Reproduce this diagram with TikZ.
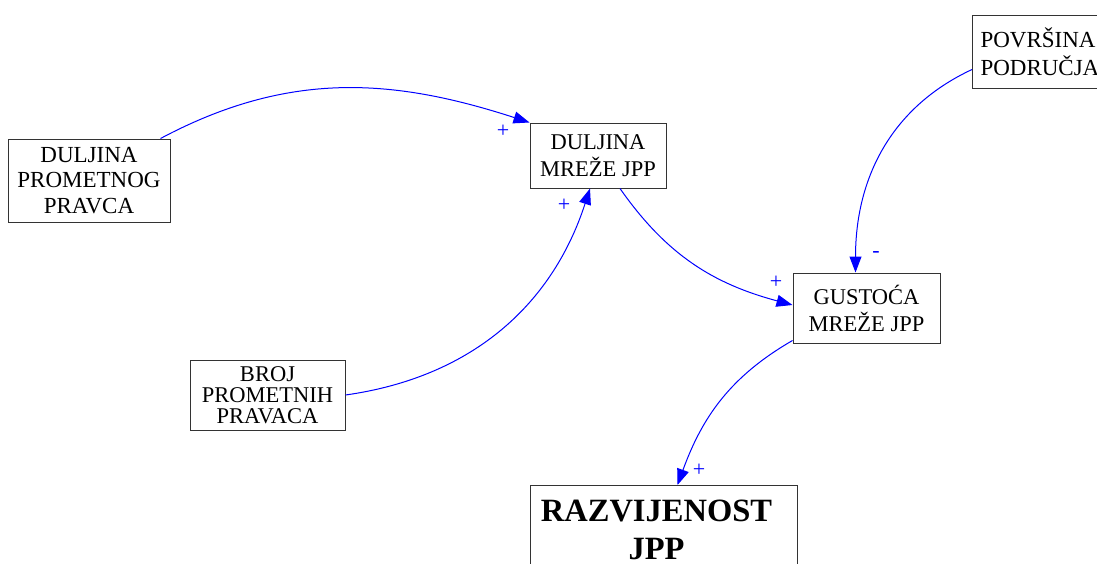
\documentclass[tikz,border=0pt]{standalone}
\usepackage{fontspec}
\setmainfont{Liberation Serif}
\usetikzlibrary{arrows.meta}
\definecolor{lnk}{RGB}{0,0,255}
\tikzset{
  var/.style={draw=black!80, line width=1pt, fill=white, align=center, inner sep=0pt},
  link/.style={draw=lnk, line width=1pt, -{Triangle[length=16pt,width=12pt]}},
  pol/.style={text=lnk, font=\fontsize{22}{22}\selectfont}
}
\begin{document}
\begin{tikzpicture}[x=1pt,y=-1pt]
\useasboundingbox (0,0) rectangle (1097,563);
\clip (0,0) rectangle (1097,563);
\fill[white] (0,0) rectangle (1097,563);
\node[var, minimum width=162pt, minimum height=83pt, font=\fontsize{23}{25.5}\selectfont] (dpp) at (89,180.5) {DULJINA\\PROMETNOG\\PRAVCA};
\node[var, minimum width=136pt, minimum height=65pt, font=\fontsize{22.5}{27}\selectfont] (dmj) at (598,155.5) {DULJINA\\MREŽE JPP};
\node[var, anchor=west, minimum height=73pt, text width=134pt, inner xsep=8pt, align=left, font=\fontsize{23}{28}\selectfont] (pp) at (972,51.5) {POVRŠINA\\PODRUČJA};
\node[var, minimum width=147pt, minimum height=70pt, font=\fontsize{22.5}{27}\selectfont] (gmj) at (866.5,308) {GUSTOĆA\\MREŽE JPP};
\node[var, minimum width=155pt, minimum height=70pt, font=\fontsize{22.5}{21}\selectfont] (bpp) at (267.5,395) {BROJ\\PROMETNIH\\PRAVACA};
\node[var, anchor=north, minimum width=267pt, inner ysep=14pt, font=\fontsize{32.5}{38}\selectfont\bfseries] (rj) at (663.5,485) {\hspace*{-14pt}RAZVIJENOST\\\hspace*{-14pt}JPP\\[0pt]\rule{0pt}{30pt}};
\draw[link] ([xshift=-10pt]dpp.north east) to[out=28,in=162] (dmj.north west);
\draw[link] (bpp.east) to[out=8,in=-108] ([xshift=-8pt]dmj.south);
\draw[link] ([xshift=22pt]dmj.south) to[out=-55,in=165] ([yshift=3pt]gmj.west);
\draw[link] ([yshift=-18pt]pp.west) to[out=205,in=90] ([xshift=-11pt]gmj.north);
\draw[link] ([yshift=3pt]gmj.south west) to[out=210,in=70] ([xshift=14pt]rj.north);
\node[pol] (p1) at (503,131) {+};
\node[pol] (p2) at (564,205) {+};
\node[pol] (p3) at (776,282) {+};
\node[pol] (p4) at (876,254) {-};
\node[pol] (p5) at (699,470) {+};
\end{tikzpicture}
\end{document}
